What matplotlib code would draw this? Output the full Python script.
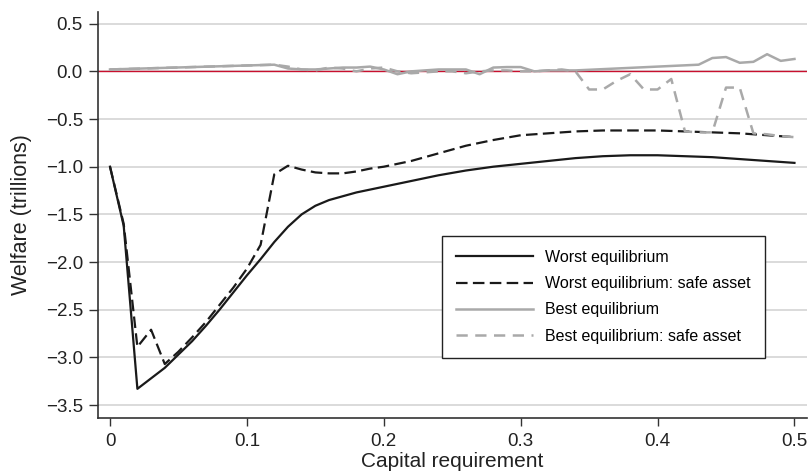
import numpy as np
import matplotlib
matplotlib.use("Agg")
import matplotlib.pyplot as plt
from matplotlib.ticker import FuncFormatter

# Worst equilibrium (solid black)
worst_x = [0.00, 0.01, 0.02, 0.03, 0.04, 0.05, 0.06, 0.07, 0.08, 0.09, 0.10,
           0.11, 0.12, 0.13, 0.14, 0.15, 0.16, 0.17, 0.18, 0.19, 0.20, 0.22,
           0.24, 0.26, 0.28, 0.30, 0.32, 0.34, 0.36, 0.38, 0.40, 0.42, 0.44,
           0.46, 0.48, 0.50]
worst_y = [-1.00, -1.62, -3.33, -3.22, -3.11, -2.97, -2.83, -2.67, -2.50, -2.32, -2.14,
           -1.97, -1.79, -1.63, -1.50, -1.41, -1.35, -1.31, -1.27, -1.24, -1.21, -1.15,
           -1.09, -1.04, -1.00, -0.97, -0.94, -0.91, -0.89, -0.88, -0.88, -0.89, -0.90,
           -0.92, -0.94, -0.96]

# Worst equilibrium: safe asset (dashed black)
worst_safe_x = [0.00, 0.01, 0.02, 0.03, 0.04, 0.05, 0.06, 0.07, 0.08, 0.09, 0.10,
                0.11, 0.12, 0.13, 0.14, 0.15, 0.16, 0.17, 0.18, 0.19, 0.20, 0.21,
                0.22, 0.24, 0.26, 0.28, 0.30, 0.32, 0.34, 0.36, 0.38, 0.40, 0.42,
                0.44, 0.46, 0.48, 0.50]
worst_safe_y = [-1.00, -1.60, -2.89, -2.71, -3.07, -2.94, -2.79, -2.63, -2.45, -2.27, -2.07,
                -1.82, -1.08, -0.99, -1.03, -1.06, -1.07, -1.07, -1.05, -1.02, -1.00, -0.97,
                -0.94, -0.86, -0.78, -0.72, -0.67, -0.65, -0.63, -0.62, -0.62, -0.62, -0.63,
                -0.64, -0.65, -0.67, -0.69]

# Best equilibrium (solid grey)
best_x = [0.00, 0.12, 0.13, 0.14, 0.15, 0.16, 0.17, 0.18, 0.19, 0.20, 0.21, 0.22,
          0.23, 0.24, 0.25, 0.26, 0.27, 0.28, 0.29, 0.30, 0.31, 0.32, 0.33, 0.34,
          0.43, 0.44, 0.45, 0.46, 0.47, 0.48, 0.49, 0.50]
best_y = [0.02, 0.07, 0.03, 0.02, 0.02, 0.03, 0.04, 0.04, 0.05, 0.02, -0.03, 0.00,
          0.01, 0.02, 0.02, 0.02, -0.03, 0.04, 0.045, 0.045, 0.00, 0.01, 0.01, 0.01,
          0.07, 0.14, 0.15, 0.09, 0.10, 0.18, 0.11, 0.13]

# Best equilibrium: safe asset (dashed grey)
best_safe_x = [0.00, 0.12, 0.13, 0.14, 0.15, 0.16, 0.17, 0.18, 0.19, 0.20, 0.21,
               0.22, 0.23, 0.24, 0.25, 0.26, 0.27, 0.28, 0.29, 0.30, 0.31, 0.32,
               0.33, 0.34, 0.35, 0.36, 0.37, 0.38, 0.39, 0.40, 0.41, 0.42, 0.43,
               0.44, 0.45, 0.46, 0.47, 0.48, 0.49, 0.50]
best_safe_y = [0.02, 0.07, 0.05, 0.02, 0.01, 0.04, 0.03, 0.00, 0.03, 0.04, 0.00,
               -0.02, -0.01, 0.00, 0.00, -0.02, 0.00, 0.01, 0.01, 0.00, 0.00, 0.01,
               0.02, 0.00, -0.19, -0.19, -0.10, -0.03, -0.19, -0.19, -0.08, -0.63, -0.64,
               -0.64, -0.17, -0.17, -0.65, -0.66, -0.68, -0.69]

x_ticks = [0, 0.1, 0.2, 0.3, 0.4, 0.5]
y_ticks = [-3.5, -3.0, -2.5, -2.0, -1.5, -1.0, -0.5, 0.0, 0.5]

plt.rcParams["font.family"] = ["Liberation Sans", "DejaVu Sans"]

fig = plt.figure(figsize=(8.11, 4.75), dpi=100)
ax = fig.add_axes([0.1208, 0.12, 0.874, 0.855])

grey = "#a9a9a9"
dark = "#1a1a1a"

# light horizontal grid and the red zero line
for y in y_ticks:
    ax.axhline(y, color="#d4d4d4", linewidth=1.2, zorder=0)
ax.axhline(0, color="#c8102e", linewidth=1.0, zorder=1)

ax.plot(best_x, best_y, color=grey, linewidth=1.8, label="Best equilibrium", zorder=3)
ax.plot(best_safe_x, best_safe_y, color=grey, linewidth=1.8, dashes=(4.5, 3),
        label="Best equilibrium: safe asset", zorder=4)
ax.plot(worst_x, worst_y, color=dark, linewidth=1.6, label="Worst equilibrium", zorder=2)
ax.plot(worst_safe_x, worst_safe_y, color=dark, linewidth=1.6, dashes=(5.2, 2.4),
        label="Worst equilibrium: safe asset", zorder=2)

ax.set_xlim(-0.0088, 0.509)
ax.set_ylim(-3.636, 0.624)
ax.set_xticks(x_ticks)
ax.set_yticks(y_ticks)
ax.xaxis.set_major_formatter(FuncFormatter(lambda v, p: "0" if v == 0 else f"{v:.1f}"))
ax.yaxis.set_major_formatter(FuncFormatter(lambda v, p: f"{v:.1f}".replace("-", "\u2212")))
ax.tick_params(axis="both", direction="out", labelsize=13.5, colors="#333333", labelcolor="#222222")
ax.tick_params(axis="y", length=6.5, width=1.0, pad=4.3)
ax.tick_params(axis="x", length=5.8, width=1.0, pad=5)

for side in ["top", "right"]:
    ax.spines[side].set_visible(False)
for side in ["left", "bottom"]:
    ax.spines[side].set_color("#333333")
    ax.spines[side].set_linewidth(1.2)

ax.set_xlabel("Capital requirement", fontsize=15, color="#222222", labelpad=1.5)
ax.set_ylabel("Welfare (trillions)", fontsize=15.5, color="#222222", labelpad=10)

handles, labels = ax.get_legend_handles_labels()
order = [2, 3, 0, 1]
leg = ax.legend([handles[i] for i in order], [labels[i] for i in order],
                loc="lower right", bbox_to_anchor=(0.941, 0.148), fontsize=11.5,
                fancybox=False, edgecolor="#222222", framealpha=1,
                handlelength=4.8, handletextpad=0.75, borderpad=0.9, labelspacing=0.7,
                borderaxespad=0)
leg.get_frame().set_linewidth(1.0)

fig.savefig("out.png", dpi=100)
